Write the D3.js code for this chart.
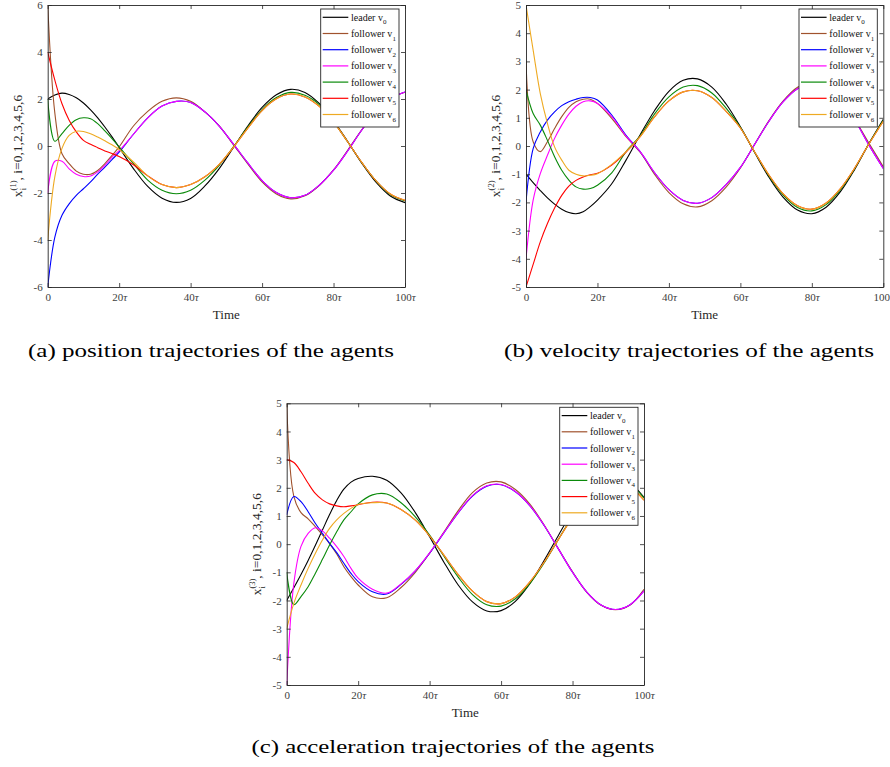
<!DOCTYPE html>
<html>
<head>
<meta charset="utf-8">
<script src="https://cdn.jsdelivr.net/npm/d3@7"></script>
<style>
  html, body { margin: 0; padding: 0; background: #fff; }
  svg { display: block; font-family: "Liberation Serif", "Times New Roman", serif; }
</style>
</head>
<body>
<svg id="fig" width="890" height="767"></svg>
<script>
// ---------- Data ----------
const T = [0, 2, 4, 6, 8, 10, 12, 14, 16, 18, 20, 24, 28, 32, 36, 40, 44, 48, 52, 56,
           60, 64, 68, 72, 76, 80, 84, 88, 92, 96, 100];
const X_TICKS = [0, 20, 40, 60, 80, 100];

// (a) position
const posV0 = [2.0, 2.17, 2.25, 2.19, 2.05, 1.83, 1.54, 1.2, 0.81, 0.39, -0.06, -0.96, -1.72, -2.22, -2.4, -2.23, -1.7, -0.96, -0.06, 0.85, 1.64, 2.18, 2.41, 2.28, 1.81, 1.07, 0.18, -0.75, -1.56, -2.14, -2.41];
const posV1 = [6.0, 1.4, -0.33, -0.75, -1.07, -1.2, -1.2, -1.04, -0.75, -0.4, -0.04, 0.85, 1.47, 1.9, 2.05, 1.9, 1.45, 0.86, 0.05, -0.76, -1.53, -2.04, -2.25, -2.12, -1.68, -1.02, -0.17, 0.71, 1.48, 2.03, 2.29];
const posV2 = [-6.0, -3.88, -2.95, -2.46, -2.1, -1.82, -1.53, -1.2, -0.9, -0.58, -0.26, 0.5, 1.2, 1.7, 1.9, 1.85, 1.45, 0.85, 0.08, -0.72, -1.47, -1.98, -2.2, -2.1, -1.67, -1.03, -0.2, 0.7, 1.47, 2.02, 2.3];
const posV3 = [-2.0, -0.65, -0.65, -0.97, -1.2, -1.3, -1.28, -1.1, -0.82, -0.47, -0.2, 0.5, 1.2, 1.7, 1.9, 1.85, 1.45, 0.85, 0.08, -0.72, -1.47, -1.98, -2.2, -2.1, -1.67, -1.03, -0.2, 0.7, 1.47, 2.02, 2.3];
const posV4 = [2.0, 0.2, 0.53, 0.88, 1.12, 1.2, 1.16, 0.95, 0.64, 0.31, -0.04, -0.75, -1.45, -1.88, -2.03, -1.88, -1.45, -0.82, -0.03, 0.8, 1.55, 2.06, 2.28, 2.16, 1.76, 1.04, 0.17, -0.73, -1.51, -2.08, -2.34];
const posV5 = [4.0, 2.8, 1.8, 1.1, 0.6, 0.24, 0.07, -0.07, -0.21, -0.32, -0.45, -0.8, -1.27, -1.64, -1.77, -1.64, -1.31, -0.78, -0.05, 0.76, 1.51, 2.01, 2.21, 2.09, 1.69, 1.03, 0.17, -0.72, -1.5, -2.05, -2.31];
const posV6 = [-4.0, -1.3, -0.1, 0.45, 0.63, 0.62, 0.52, 0.38, 0.22, 0.05, -0.15, -0.68, -1.27, -1.64, -1.77, -1.64, -1.31, -0.78, -0.05, 0.76, 1.51, 2.01, 2.21, 2.09, 1.69, 1.03, 0.17, -0.72, -1.5, -2.05, -2.31];

// (b) velocity
const velV0 = [-1.0, -1.3, -1.58, -1.84, -2.06, -2.24, -2.36, -2.4, -2.33, -2.15, -1.92, -1.34, -0.5, 0.41, 1.26, 1.94, 2.33, 2.38, 2.09, 1.49, 0.68, -0.23, -1.11, -1.82, -2.27, -2.4, -2.17, -1.62, -0.83, 0.09, 0.95];
const velV1 = [3.0, 0.15, -0.2, 0.15, 0.62, 1.04, 1.37, 1.57, 1.66, 1.66, 1.51, 0.98, 0.33, -0.23, -1.01, -1.65, -2.05, -2.16, -1.94, -1.46, -0.78, 0.06, 0.9, 1.6, 2.08, 2.25, 2.09, 1.63, 0.94, 0.1, -0.74];
const velV2 = [-1.98, -0.09, 0.5, 0.92, 1.21, 1.43, 1.57, 1.66, 1.72, 1.72, 1.63, 1.1, 0.38, -0.21, -0.95, -1.55, -1.93, -2.03, -1.83, -1.37, -0.76, 0.06, 0.88, 1.57, 2.03, 2.2, 2.05, 1.6, 0.92, 0.03, -0.8];
const velV3 = [-4.0, -1.92, -0.98, -0.33, 0.27, 0.74, 1.13, 1.41, 1.57, 1.6, 1.51, 1.04, 0.35, -0.21, -0.95, -1.55, -1.93, -2.03, -1.83, -1.37, -0.76, 0.06, 0.88, 1.57, 2.03, 2.2, 2.05, 1.6, 0.92, 0.03, -0.8];
const velV4 = [2.0, 1.15, 0.74, 0.2, -0.38, -0.86, -1.21, -1.45, -1.53, -1.51, -1.39, -0.95, -0.2, 0.37, 1.14, 1.74, 2.09, 2.14, 1.88, 1.34, 0.66, -0.22, -1.06, -1.74, -2.18, -2.3, -2.08, -1.55, -0.8, 0.09, 0.91];
const velV5 = [-5.0, -4.2, -3.4, -2.75, -2.2, -1.75, -1.42, -1.22, -1.1, -1.02, -0.97, -0.68, -0.22, 0.34, 1.04, 1.6, 1.92, 1.96, 1.72, 1.23, 0.64, -0.21, -1.03, -1.7, -2.12, -2.24, -2.02, -1.51, -0.78, 0.08, 0.88];
const velV6 = [5.0, 3.4, 1.86, 0.8, -0.03, -0.5, -0.86, -1.0, -1.06, -1.04, -0.98, -0.65, -0.2, 0.34, 1.04, 1.6, 1.92, 1.96, 1.72, 1.23, 0.64, -0.21, -1.03, -1.7, -2.12, -2.24, -2.02, -1.51, -0.78, 0.08, 0.88];

// (c) acceleration
const accV0 = [-2.0, -1.55, -1.08, -0.58, -0.05, 0.5, 1.05, 1.55, 1.95, 2.2, 2.33, 2.41, 2.27, 1.82, 1.12, 0.26, -0.64, -1.45, -2.05, -2.37, -2.36, -2.03, -1.41, -0.59, 0.3, 1.16, 1.86, 2.29, 2.41, 2.19, 1.66];
const accV1 = [5.0, 1.7, 1.12, 0.9, 0.62, 0.33, 0.02, -0.35, -0.8, -1.15, -1.45, -1.87, -1.9, -1.54, -1.0, -0.32, 0.43, 1.19, 1.83, 2.17, 2.21, 1.94, 1.43, 0.69, -0.16, -0.98, -1.71, -2.17, -2.33, -2.17, -1.6];
const accV2 = [1.04, 1.69, 1.51, 1.15, 0.74, 0.38, 0.03, -0.3, -0.68, -1.04, -1.33, -1.69, -1.77, -1.43, -0.95, -0.32, 0.4, 1.11, 1.71, 2.06, 2.11, 1.86, 1.37, 0.67, -0.16, -1.0, -1.7, -2.16, -2.32, -2.16, -1.66];
const accV3 = [-5.0, -1.39, -0.08, 0.38, 0.58, 0.47, 0.21, -0.09, -0.44, -0.86, -1.21, -1.6, -1.74, -1.41, -0.94, -0.31, 0.41, 1.12, 1.72, 2.07, 2.12, 1.87, 1.38, 0.68, -0.16, -1.0, -1.7, -2.16, -2.32, -2.16, -1.66];
const accV4 = [-1.0, -2.15, -1.86, -1.51, -1.04, -0.54, -0.03, 0.44, 0.86, 1.15, 1.43, 1.75, 1.78, 1.47, 0.97, 0.32, -0.43, -1.17, -1.79, -2.15, -2.2, -1.94, -1.41, -0.68, 0.16, 0.99, 1.69, 2.14, 2.3, 2.14, 1.64];
const accV5 = [3.0, 2.9, 2.57, 2.16, 1.8, 1.57, 1.43, 1.36, 1.33, 1.36, 1.4, 1.49, 1.46, 1.23, 0.85, 0.29, -0.39, -1.08, -1.67, -2.04, -2.11, -1.87, -1.35, -0.65, 0.16, 0.95, 1.62, 2.05, 2.2, 2.05, 1.56];
const accV6 = [-3.0, -2.1, -1.45, -0.86, -0.33, 0.15, 0.56, 0.86, 1.09, 1.27, 1.41, 1.47, 1.46, 1.23, 0.85, 0.29, -0.39, -1.08, -1.67, -2.04, -2.11, -1.87, -1.35, -0.65, 0.16, 0.95, 1.62, 2.05, 2.2, 2.05, 1.56];

const LEGEND_NAMES = ["leader v", "follower v", "follower v", "follower v", "follower v", "follower v", "follower v"];
const LEGEND_SUBS = ["0", "1", "2", "3", "4", "5", "6"];
const COLORS = ["#000000", "#a0522d", "#0000ff", "#ff00ff", "#0a8a0a", "#ff0000", "#eeaa22"];

const svg = d3.select("#fig");

// ---------- Panel ----------
function drawPanel(p) {
  const x = d3.scaleLinear().domain([0, 100]).range([p.left, p.right]);
  const y = d3.scaleLinear().domain(p.yDomain).range([p.bottom, p.top]);

  svg.append("clipPath").attr("id", "clip-" + p.id)
    .append("rect")
    .attr("x", p.left).attr("y", p.top)
    .attr("width", p.right - p.left).attr("height", p.bottom - p.top);

  const line = d3.line()
    .x((d, i) => x(T[i]))
    .y((d) => y(d))
    .curve(d3.curveCatmullRom.alpha(0.5));

  svg.append("g")
    .attr("clip-path", `url(#clip-${p.id})`)
    .selectAll("path")
    .data(p.series)
    .join("path")
    .attr("d", line)
    .attr("fill", "none")
    .attr("stroke", (d, i) => COLORS[i])
    .attr("stroke-width", 1.1);

  const styleAxis = (g) => {
    g.attr("color", "#262626")
      .attr("font-family", "Liberation Serif, serif")
      .attr("font-size", 11);
    g.selectAll(".tick text").attr("fill", "#404040");
    g.select(".domain").attr("stroke-width", 0.9);
    g.selectAll(".tick line").attr("stroke-width", 0.8);
  };

  // bottom
  const gx = svg.append("g")
    .attr("transform", `translate(0,${p.bottom})`)
    .call(d3.axisBottom(x).tickValues(X_TICKS).tickSizeInner(-4).tickSizeOuter(0).tickPadding(6));
  styleAxis(gx);
  gx.selectAll(".tick text").each(function (d) {
    const t = d3.select(this).text(null);
    if (d === 0) { t.text("0"); return; }
    t.append("tspan").text(d);
    t.append("tspan").attr("font-style", "italic").text("τ");
  });
  // top
  styleAxis(svg.append("g")
    .attr("transform", `translate(0,${p.top})`)
    .call(d3.axisTop(x).tickValues(X_TICKS).tickSizeInner(-4).tickSizeOuter(0).tickFormat(() => "")));
  // left
  styleAxis(svg.append("g")
    .attr("transform", `translate(${p.left},0)`)
    .call(d3.axisLeft(y).tickValues(p.yTicks).tickSizeInner(-4).tickSizeOuter(0).tickPadding(5)
      .tickFormat((d) => String(d))));
  // right
  styleAxis(svg.append("g")
    .attr("transform", `translate(${p.right},0)`)
    .call(d3.axisRight(y).tickValues(p.yTicks).tickSizeInner(-4).tickSizeOuter(0).tickFormat(() => "")));

  // x label
  svg.append("text")
    .attr("x", (p.left + p.right) / 2)
    .attr("y", p.bottom + 32)
    .attr("text-anchor", "middle")
    .attr("font-size", 13)
    .attr("fill", "#262626")
    .text("Time");

  // y label
  const yl = svg.append("text")
    .attr("transform", `translate(${p.left - 26},${(p.top + p.bottom) / 2}) rotate(-90)`)
    .attr("text-anchor", "middle")
    .attr("font-size", 13.5)
    .attr("fill", "#262626");
  yl.append("tspan").text("x");
  yl.append("tspan").attr("font-size", 8.5).attr("dy", -6).text(`(${p.order})`);
  yl.append("tspan").attr("font-size", 8.5).attr("dx", -9.9).attr("dy", 10).text("i");
  yl.append("tspan").attr("dx", 7.5).attr("dy", -4).text(", i=0,1,2,3,4,5,6");

  // legend
  const lg = svg.append("g").attr("transform", `translate(${p.right - 84.3},${p.top + 4})`);
  lg.append("rect")
    .attr("width", 78.3).attr("height", 118)
    .attr("fill", "#fff").attr("stroke", "#262626").attr("stroke-width", 0.9);
  const rows = lg.selectAll("g.row")
    .data(LEGEND_NAMES)
    .join("g")
    .attr("class", "row")
    .attr("transform", (d, i) => `translate(0,${8.3 + 16.2 * i})`);
  rows.append("line")
    .attr("x1", 2).attr("x2", 27.6)
    .attr("stroke", (d, i) => COLORS[i])
    .attr("stroke-width", 1.2);
  const lt = rows.append("text")
    .attr("x", 30.3).attr("y", 3.5)
    .attr("font-size", 10)
    .attr("fill", "#111");
  lt.append("tspan").text((d) => d);
  lt.append("tspan").attr("font-size", 7).attr("dy", 3.5).text((d, i) => LEGEND_SUBS[i]);

  // caption
  svg.append("text")
    .attr("x", p.capX)
    .attr("y", p.capY)
    .attr("text-anchor", "middle")
    .attr("font-size", 19)
    .attr("textLength", p.capW)
    .attr("lengthAdjust", "spacingAndGlyphs")
    .attr("fill", "#000")
    .text(p.caption);
}

drawPanel({
  id: "a", order: 1, left: 47.7, right: 405, top: 5, bottom: 287,
  yDomain: [-6, 6], yTicks: [-6, -4, -2, 0, 2, 4, 6],
  series: [posV0, posV1, posV2, posV3, posV4, posV5, posV6],
  caption: "(a) position trajectories of the agents", capX: 211, capY: 357, capW: 366
});
drawPanel({
  id: "b", order: 2, left: 526, right: 883.3, top: 5, bottom: 287,
  yDomain: [-5, 5], yTicks: [-5, -4, -3, -2, -1, 0, 1, 2, 3, 4, 5],
  series: [velV0, velV1, velV2, velV3, velV4, velV5, velV6],
  caption: "(b) velocity trajectories of the agents", capX: 689, capY: 357, capW: 370
});
drawPanel({
  id: "c", order: 3, left: 286.7, right: 644, top: 403.3, bottom: 685,
  yDomain: [-5, 5], yTicks: [-5, -4, -3, -2, -1, 0, 1, 2, 3, 4, 5],
  series: [accV0, accV1, accV2, accV3, accV4, accV5, accV6],
  caption: "(c) acceleration trajectories of the agents", capX: 453, capY: 753, capW: 403
});
</script>
</body>
</html>
